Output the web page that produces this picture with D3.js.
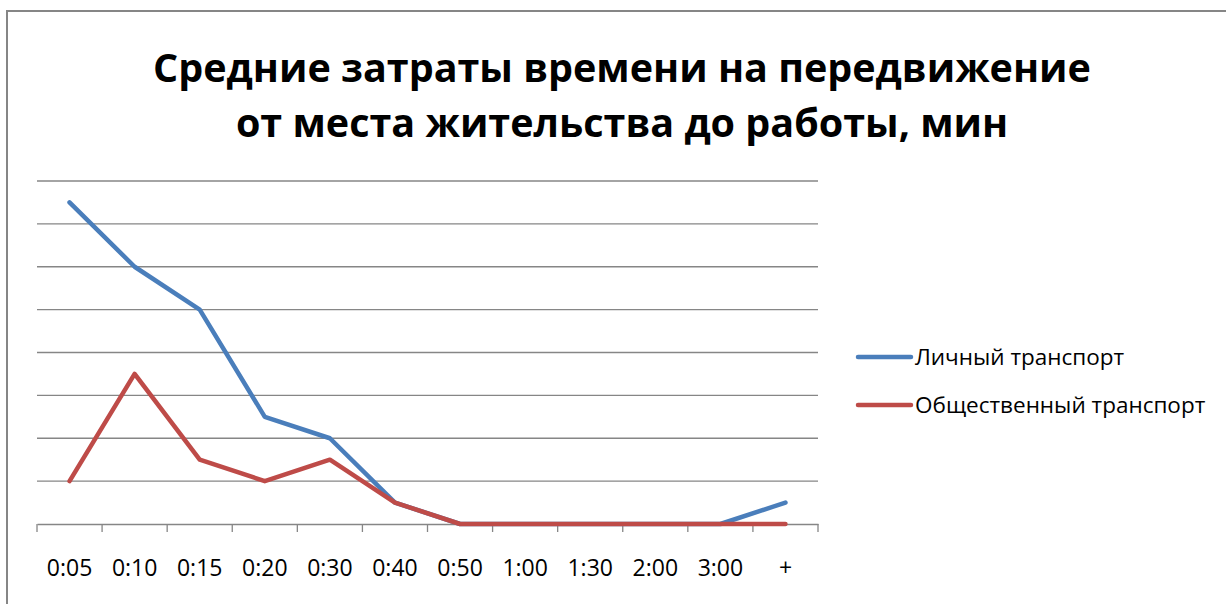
<!doctype html><html><head><style>body{margin:0;background:#fff}</style></head><body><script src='https://d3js.org/d3.v7.min.js'></script>

<script>
// Data
const categories = ["0:05","0:10","0:15","0:20","0:30","0:40","0:50","1:00","1:30","2:00","3:00","+"];
const personal   = [7.5, 6, 5, 2.5, 2, 0.5, 0, 0, 0, 0, 0, 0.5];
const publicTr   = [1, 3.5, 1.5, 1, 1.5, 0.5, 0, 0, 0, 0, 0, 0];
const seriesNames = ["Личный транспорт","Общественный транспорт"];
const titleLines = ["Средние затраты времени на передвижение","от места жительства до работы, мин"];
const yTicks = [0,1,2,3,4,5,6,7,8];

const W = 1226, H = 604;
const font = "'Open Sans', sans-serif";

const svg = d3.select("body").append("svg")
              .attr("width", W).attr("height", H);

// frame
svg.append("rect")
   .attr("x", 7).attr("y", 11).attr("width", W).attr("height", H)
   .attr("fill", "none").attr("stroke", "#868686").attr("stroke-width", 2);

// title
svg.append("g").selectAll("text").data(titleLines).join("text")
   .attr("x", 622).attr("y", (d,i) => 82 + i*55)
   .attr("text-anchor", "middle")
   .attr("font-family", font).attr("font-weight", "bold").attr("font-size", 39.5)
   .text(d => d);

// scales
const x = d3.scaleBand().domain(categories).range([37, 818]);
const y = d3.scaleLinear().domain([0, 8]).range([524, 181]);

// gridlines
svg.append("g").selectAll("line").data(yTicks.filter(d => d > 0)).join("line")
   .attr("x1", 37).attr("x2", 818)
   .attr("y1", d => y(d)).attr("y2", d => y(d))
   .attr("stroke", "#868686").attr("stroke-width", 1.3);

// x axis
const xAxis = svg.append("g")
   .attr("transform", "translate(0," + y(0) + ")")
   .call(d3.axisBottom(x).tickSize(0).tickPadding(36));
xAxis.select(".domain").attr("stroke", "#868686").attr("stroke-width", 1.3);
xAxis.selectAll("text").attr("font-family", font).attr("font-size", 23).attr("fill", "#000");
// tick marks at category boundaries
const bounds = categories.map(c => x(c)).concat([x.range()[1]]);
xAxis.selectAll(".bnd").data(bounds).join("line")
   .attr("class", "bnd")
   .attr("x1", d => d).attr("x2", d => d)
   .attr("y1", 0).attr("y2", 8)
   .attr("stroke", "#868686").attr("stroke-width", 1.3);

// lines
const line = d3.line()
   .x((d,i) => x(categories[i]) + x.bandwidth()/2)
   .y(d => y(d));

const colors = ["#4a7ebb", "#be4b48"];
[personal, publicTr].forEach((s, k) => {
  svg.append("path")
     .datum(s)
     .attr("fill", "none")
     .attr("stroke", colors[k])
     .attr("stroke-width", 4.5)
     .attr("stroke-linejoin", "round")
     .attr("stroke-linecap", "round")
     .attr("d", line);
});

// legend
const leg = svg.append("g").selectAll("g").data(seriesNames).join("g")
   .attr("transform", (d,i) => "translate(858," + (357 + i*48) + ")");
leg.append("line")
   .attr("x1", 0).attr("x2", 53)
   .attr("stroke", (d,i) => colors[i]).attr("stroke-width", 4.5)
   .attr("stroke-linecap", "round");
leg.append("text")
   .attr("x", 57).attr("y", 8)
   .attr("font-family", font).attr("font-size", 22.5)
   .text(d => d);
</script></body></html>
